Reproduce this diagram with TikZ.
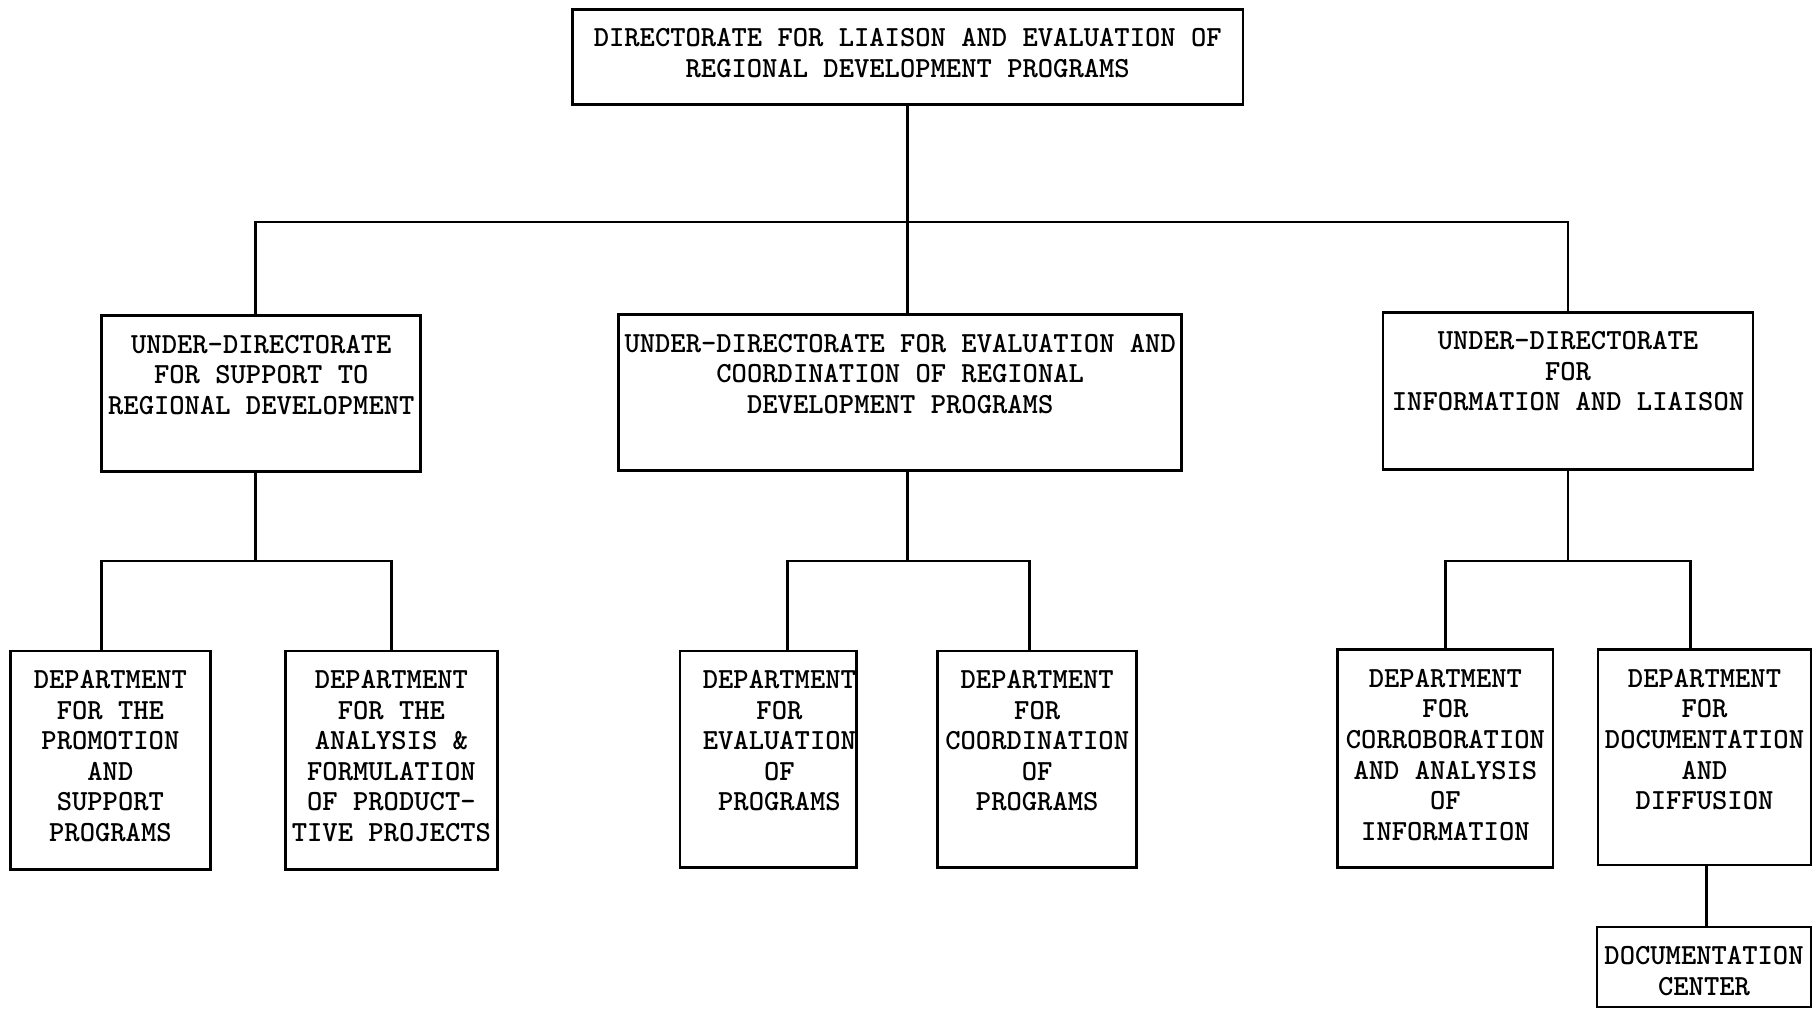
\documentclass[tikz,border=0pt]{standalone}
\usepackage{fontspec}
\usetikzlibrary{positioning}

\begin{document}
\begin{tikzpicture}[
    box/.style={draw, line width=0.8pt, inner sep=0pt},
    txt/.style={font=\ttfamily\bfseries\fontsize{8.3}{8.7}\selectfont, align=center, inner sep=0pt},
    wire/.style={line width=0.8pt}
]
    \useasboundingbox (0,0) rectangle (18.13,-10.18);

    % Directorate
    \node[box, minimum width=6.706cm, minimum height=0.948cm] (dir) at (9.077,-0.567) {};
    \node[txt, below=0.2cm of dir.north] (dirt) {DIRECTORATE FOR LIAISON AND EVALUATION OF\\REGIONAL DEVELOPMENT PROGRAMS};

    % Under-directorates
    \node[box, minimum width=3.191cm, minimum height=1.561cm] (ud1) at (2.613,-3.937) {};
    \node[txt, below=0.2cm of ud1.north] (ud1t) {UNDER-DIRECTORATE\\FOR SUPPORT TO\\REGIONAL DEVELOPMENT};
    \node[box, minimum width=5.632cm, minimum height=1.561cm] (ud2) at (9.002,-3.926) {};
    \node[txt, below=0.2cm of ud2.north] (ud2t) {UNDER-DIRECTORATE FOR EVALUATION AND\\COORDINATION OF REGIONAL\\DEVELOPMENT PROGRAMS};
    \node[box, minimum width=3.700cm, minimum height=1.573cm] (ud3) at (15.680,-3.908) {};
    \node[txt, below=0.2cm of ud3.north] (ud3t) {UNDER-DIRECTORATE\\FOR\\INFORMATION AND LIAISON};

    % Departments
    \node[box, minimum width=2.000cm, minimum height=2.185cm] (d1) at (1.104,-7.603) {};
    \node[txt, below=0.2cm of d1.north] (d1t) {DEPARTMENT\\FOR THE\\PROMOTION\\AND\\SUPPORT\\PROGRAMS};
    \node[box, minimum width=2.116cm, minimum height=2.185cm] (d2) at (3.914,-7.603) {};
    \node[txt, below=0.2cm of d2.north] (d2t) {DEPARTMENT\\FOR THE\\ANALYSIS \&\\FORMULATION\\OF PRODUCT-\\TIVE PROJECTS};
    \node[box, minimum width=1.769cm, minimum height=2.162cm] (d3) at (7.684,-7.591) {};
    \node[txt, below=0.2cm of d3.north, xshift=0.11cm] (d3t) {DEPARTMENT\\FOR\\EVALUATION\\OF\\PROGRAMS};
    \node[box, minimum width=1.989cm, minimum height=2.162cm] (d4) at (10.372,-7.591) {};
    \node[txt, below=0.2cm of d4.north] (d4t) {DEPARTMENT\\FOR\\COORDINATION\\OF\\PROGRAMS};
    \node[box, minimum width=2.151cm, minimum height=2.174cm] (d5) at (14.454,-7.585) {};
    \node[txt, below=0.2cm of d5.north] (d5t) {DEPARTMENT\\FOR\\CORROBORATION\\AND ANALYSIS\\OF\\INFORMATION};
    \node[box, minimum width=2.130cm, minimum height=2.151cm] (d6) at (17.045,-7.574) {};
    \node[txt, below=0.2cm of d6.north] (d6t) {DEPARTMENT\\FOR\\DOCUMENTATION\\AND\\DIFFUSION};
    \node[box, minimum width=2.140cm, minimum height=0.800cm] (doc) at (17.040,-9.670) {};
    \node[txt, below=0.2cm of doc.north] (doct) {DOCUMENTATION\\CENTER};

    % Connectors
    \coordinate (bus) at (0,-2.22);
    \coordinate (bus2) at (0,-5.61);
    \draw[wire] (dir.south) -- (dir.south |- ud2.north);
    \draw[wire] ([xshift=-0.06cm]ud1.north) |- (bus -| ud3.north) -- (ud3.north);

    \draw[wire] ([xshift=-0.06cm]ud1.south) -- ([xshift=-0.06cm]ud1.south |- bus2);
    \draw[wire] ([xshift=-0.09cm]d1.north) |- (d2.north |- bus2) -- (d2.north);

    \draw[wire] (ud2.south -| dir.south) -- (dir.south |- bus2);
    \draw[wire] ([xshift=0.19cm]d3.north) |- ([xshift=-0.08cm]d4.north |- bus2) -- ([xshift=-0.08cm]d4.north);

    \draw[wire] (ud3.south) -- (ud3.south |- bus2);
    \draw[wire] (d5.north) |- ([xshift=-0.14cm]d6.north |- bus2) -- ([xshift=-0.14cm]d6.north);

    \draw[wire] ([xshift=0.02cm]d6.south) -- ([xshift=0.02cm]d6.south |- doc.north);
\end{tikzpicture}
\end{document}
